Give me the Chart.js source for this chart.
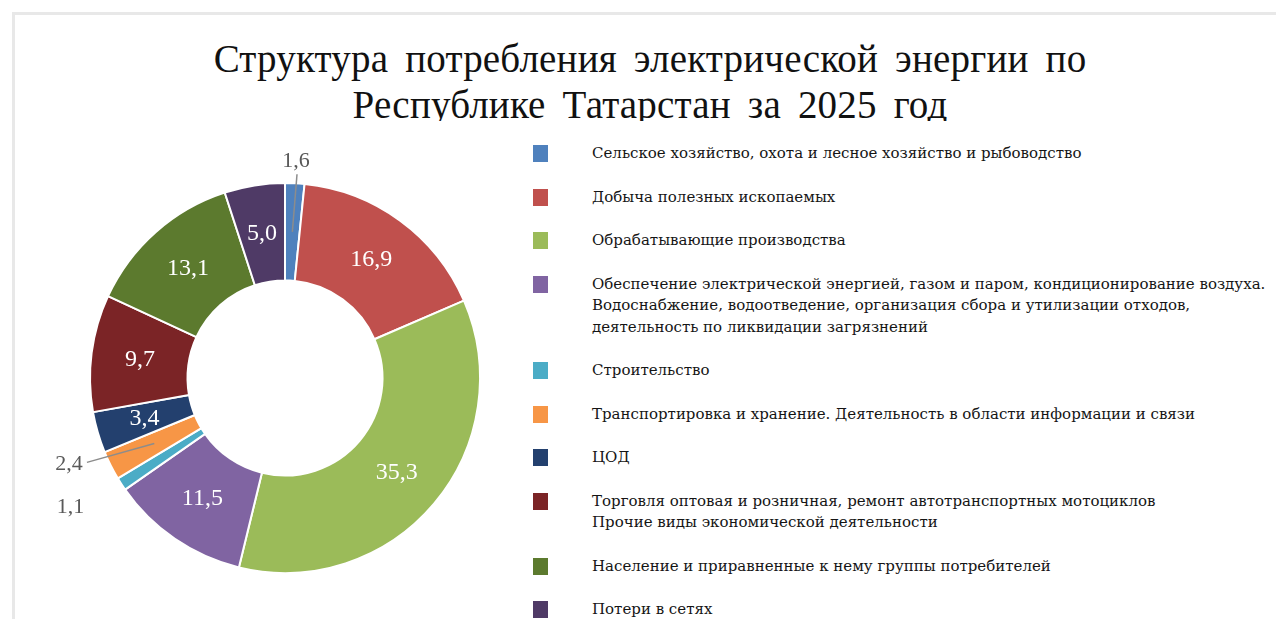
<!DOCTYPE html>
<html>
<head>
<meta charset="utf-8">
<script src="https://cdn.jsdelivr.net/npm/chart.js@4.4.1/dist/chart.umd.min.js"></script>
<style>
  html, body { margin: 0; padding: 0; background: #fff; }
  body { width: 1276px; height: 619px; position: relative; overflow: hidden; }
  .frame { position: absolute; left: 12px; top: 12px; right: -10px; bottom: -10px;
           border-top: 3px solid #e8e8e8; border-left: 3px solid #e8e8e8; }
  .title { position: absolute; left: 12px; width: 1276px; top: 36px; height: 85px; overflow: hidden;
           text-align: center; font-family: 'Liberation Serif', serif; font-size: 39px;
           line-height: 46px; color: #111; word-spacing: 7px; letter-spacing: 0.2px; }
  .chartBox { position: absolute; left: 45px; top: 138px; width: 480px; height: 480px; }
  #legend { position: absolute; left: 533px; top: 143px; font-family: 'DejaVu Serif', serif;
            font-size: 15px; line-height: 21.5px; color: #151515; }
  .item { display: flex; margin-bottom: 22px; white-space: nowrap; }
  .sw { width: 15px; height: 17px; margin-top: 2px; flex: none; }
  .txt { margin-left: 44px; }
</style>
</head>
<body>
<div class="frame"></div>
<div class="title">Структура потребления электрической энергии по<br>Республике Татарстан за 2025 год</div>
<div class="chartBox"><canvas id="pie"></canvas></div>
<div id="legend"></div>

<script>
// категории (многострочные подписи как массивы строк)
var categories = [
    ['Сельское хозяйство, охота и лесное хозяйство и рыбоводство'],
    ['Добыча полезных ископаемых'],
    ['Обрабатывающие производства'],
    ['Обеспечение электрической энергией, газом и паром, кондиционирование воздуха.',
     'Водоснабжение, водоотведение, организация сбора и утилизации отходов,',
     'деятельность по ликвидации загрязнений'],
    ['Строительство'],
    ['Транспортировка и хранение. Деятельность в области информации и связи'],
    ['ЦОД'],
    ['Торговля оптовая и розничная, ремонт автотранспортных мотоциклов',
     'Прочие виды экономической деятельности'],
    ['Население и приравненные к нему группы потребителей'],
    ['Потери в сетях']
];

// доли, %
var shares = [1.6, 16.9, 35.3, 11.5, 1.1, 2.4, 3.4, 9.7, 13.1, 5.0];

var colors = ['#4F81BD', '#C0504D', '#9BBB59', '#8064A2', '#4BACC6',
              '#F79646', '#23406E', '#7B2426', '#5C7A2E', '#4F3A66'];

// small slices get their label outside, with a few hand offsets
var outside = {
    0: { gap: 24, dx: 0, dy: 2, line: true },
    4: { gap: 50, dx: -9, dy: -4, line: false },
    5: { gap: 40, dx: -6, dy: -19, line: true }
};

function fmt(v) {
    return v.toFixed(1).replace('.', ',');
}

var valueLabels = {
    id: 'valueLabels',
    afterDatasetsDraw: function (chart) {
        var ctx = chart.ctx;
        var meta = chart.getDatasetMeta(0);
        ctx.save();
        ctx.textAlign = 'center';
        ctx.textBaseline = 'middle';
        meta.data.forEach(function (arc, i) {
            var p = arc.getProps(['x', 'y', 'startAngle', 'endAngle', 'innerRadius', 'outerRadius'], true);
            var mid = (p.startAngle + p.endAngle) / 2;
            var rm = (p.innerRadius + p.outerRadius) / 2;
            var mx = p.x + Math.cos(mid) * rm;
            var my = p.y + Math.sin(mid) * rm;
            var o = outside[i];
            if (!o) {
                ctx.font = '24px "Liberation Serif"';
                ctx.fillStyle = '#ffffff';
                ctx.fillText(fmt(shares[i]), mx, my);
                return;
            }
            var lx = p.x + Math.cos(mid) * (p.outerRadius + o.gap) + o.dx;
            var ly = p.y + Math.sin(mid) * (p.outerRadius + o.gap) + o.dy;
            ctx.font = '22px "Liberation Serif"';
            ctx.fillStyle = '#595959';
            ctx.fillText(fmt(shares[i]), lx, ly);
            if (o.line) {
                ctx.strokeStyle = '#8c8c8c';
                ctx.lineWidth = 1.5;
                ctx.beginPath();
                if (i === 0) {
                    ctx.moveTo(lx + 1, ly + 13);
                } else {
                    ctx.moveTo(lx + 18, ly - 2);
                }
                ctx.lineTo(mx, my);
                ctx.stroke();
            }
        });
        ctx.restore();
    }
};

var ctx = document.getElementById('pie').getContext('2d');
var pieChart = new Chart(ctx, {
    type: 'doughnut',
    data: {
        labels: categories,
        datasets: [{
            data: shares,
            backgroundColor: colors,
            borderColor: '#ffffff',
            borderWidth: 2
        }]
    },
    options: {
        responsive: true,
        maintainAspectRatio: false,
        animation: false,
        cutout: '50%',
        layout: { padding: 44 },
        plugins: {
            legend: { display: false },
            tooltip: { enabled: false }
        }
    },
    plugins: [valueLabels]
});

// HTML legend from the same arrays
var legend = document.getElementById('legend');
categories.forEach(function (lines, i) {
    var item = document.createElement('div');
    item.className = 'item';
    var sw = document.createElement('div');
    sw.className = 'sw';
    sw.style.background = colors[i];
    var txt = document.createElement('div');
    txt.className = 'txt';
    txt.innerHTML = lines.join('<br>');
    item.appendChild(sw);
    item.appendChild(txt);
    legend.appendChild(item);
});
</script>
</body>
</html>
